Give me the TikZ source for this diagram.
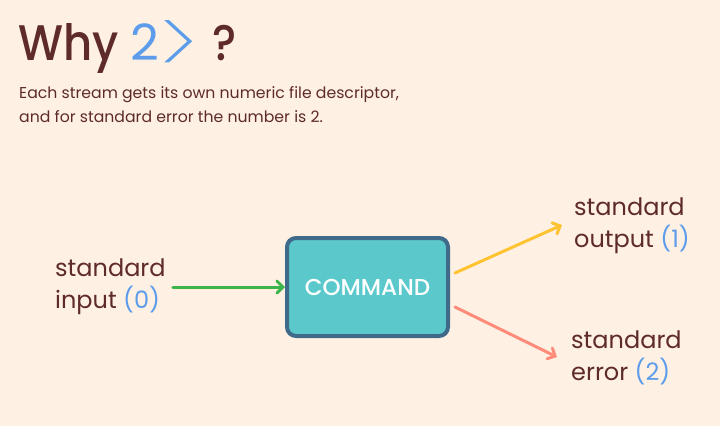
\documentclass[tikz,border=0pt]{standalone}
\usepackage{fontspec}
\setmainfont{Poppins}
\newfontfamily\headfont{Poppins Medium}[FakeStretch=0.9]
\newfontfamily\boxfont{Poppins Medium}
\newfontfamily\thinfont{Poppins ExtraLight}
\usetikzlibrary{arrows.meta,calc}

\definecolor{bgcream}{HTML}{FEF1E3}
\definecolor{textbrown}{HTML}{5E2A2A}
\definecolor{fdblue}{HTML}{5C9CEB}
\definecolor{ingreen}{HTML}{3BB54A}
\definecolor{outyellow}{HTML}{FFC332}
\definecolor{errsalmon}{HTML}{FF8C7A}
\definecolor{cmdfill}{HTML}{5BC8CB}
\definecolor{cmdborder}{HTML}{3F6A8A}

\newcommand\titlestyle{\fontsize{50}{50}\selectfont\headfont}
\newcommand\notestyle{\fontsize{15.7}{24}\selectfont}
\newcommand\streamstyle{\fontsize{24}{32}\selectfont}
\newcommand\fdnum[1]{\textcolor{fdblue}{(#1)}}
\newcommand\redirsign{\kern1pt\raisebox{-15pt}[27pt][0pt]{\scalebox{1.75}[1.8]{\thinfont >}}}

\tikzset{
  stream/.style={text=textbrown, align=left, anchor=west, inner sep=0pt, font=\streamstyle},
  flow/.style={line width=3pt, line cap=round, line join=round,
    -{Straight Barb[length=6pt,width=12pt,line cap=round]}},
}

\begin{document}
\begin{tikzpicture}[x=1pt, y=-1pt]
    \fill[bgcream] (0,0) rectangle (720,426);
    \useasboundingbox (0,0) rectangle (720,426);
    % heading
    \node[anchor=base west, inner sep=0pt, text=textbrown] (title) at (18,60)
      {\titlestyle Why \textcolor{fdblue}{\normalfont\fontsize{50}{50}\selectfont 2\redirsign}\kern3pt\ ?};
    \node[anchor=base west, inner sep=0pt, text=textbrown] (noteone) at (19,98)
      {\notestyle Each stream gets its own numeric file descriptor,};
    \node[anchor=base west, inner sep=0pt, text=textbrown] (notetwo) at (19,122)
      {\notestyle and for standard error the number is 2.};
    % the command
    \node[draw=cmdborder, fill=cmdfill, line width=4pt, rounded corners=9pt,
      minimum width=161pt, minimum height=98pt, text=white,
      font=\fontsize{23}{23}\selectfont\boxfont] (cmd) at (367.5,287) {COMMAND};
    % streams
    \node[stream] (inlabel) at (55,287) {standard\\input \fdnum{0}};
    \node[stream] (outlabel) at (574,226) {standard\\output \fdnum{1}};
    \node[stream] (errlabel) at (571,358) {standard\\error \fdnum{2}};
    \coordinate (outtail) at ($(cmd.east)+(5,-14)$);
    \coordinate (errtail) at ($(cmd.east)+(5,20)$);
    \coordinate (outhead) at ($(outlabel.west)+(-12,-1)$);
    \coordinate (errhead) at ($(errlabel.west)+(-14,-1)$);
    \draw[flow, ingreen, shorten <=7pt] (inlabel) -- (cmd);
    \draw[flow, outyellow] (outtail) -- (outhead);
    \draw[flow, errsalmon] (errtail) -- (errhead);
\end{tikzpicture}
\end{document}
